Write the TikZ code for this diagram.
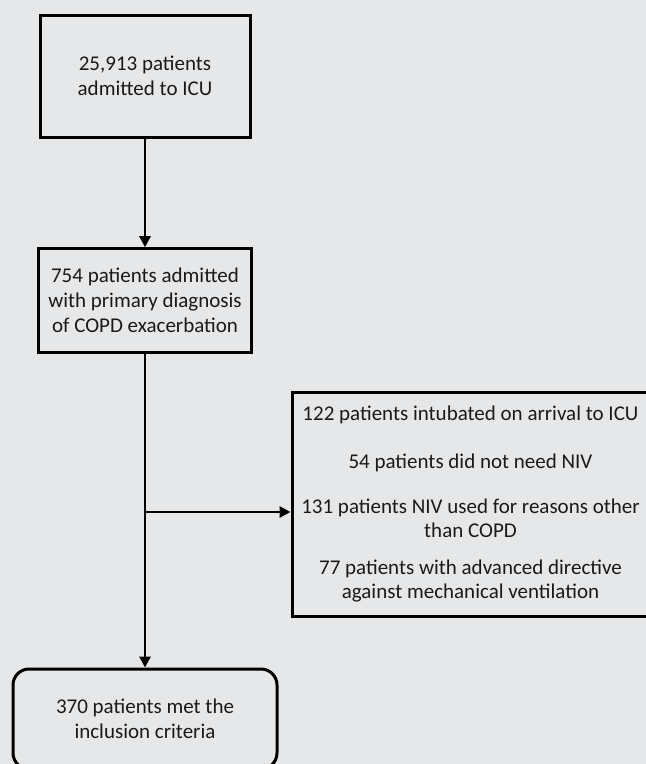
\documentclass[tikz,border=0pt]{standalone}
\usepackage{fontspec}
\setmainfont{Carlito}
\usetikzlibrary{arrows.meta}
\definecolor{bgc}{HTML}{E6E7E8}
\definecolor{txt}{HTML}{1A1A1A}
\tikzset{
  box/.style={draw=black, line width=3pt, align=center, inner sep=0pt,
    text=txt, font=\fontsize{21}{25}\selectfont},
  rbox/.style={box, rounded corners=16pt},
  arr/.style={line width=2.8pt, -{Triangle[length=11pt,width=11pt]}},
  ln/.style={line width=2.8pt}
}
\begin{document}
\begin{tikzpicture}[x=1pt,y=1pt]
\fill[bgc] (0,0) rectangle (646,-764);
\useasboundingbox (0,0) rectangle (646,-764);
\clip (0,0) rectangle (646,-764);
\node[box, minimum width=210pt, minimum height=122pt] (b1) at (145,-76)
  {25,913 patients\\admitted to ICU};
\node[box, minimum width=213pt, minimum height=104pt] (b2) at (145,-300.7)
  {754 patients admitted\\with primary diagnosis\\of COPD exacerbation};
\node[box, minimum width=357pt, minimum height=224pt, font=\fontsize{21}{24}\selectfont] (b3) at (470.5,-504)
  {122 patients intubated on arrival to ICU\\[24pt]
   54 patients did not need NIV\\[21pt]
   131 patients NIV used for reasons other\\than COPD\\[13pt]
   77 patients with advanced directive\\against mechanical ventilation};
\node[rbox, minimum width=264pt, minimum height=100pt] (b4) at (145,-719)
  {370 patients met the\\inclusion criteria};
\coordinate (br) at (145,-512);
\draw[arr] (b1.south) -- (b2.north);
\draw[ln] (b2.south) -- (br);
\draw[arr] (br) -- (b4.north);
\draw[arr] (br) -- (br -| b3.west);
\end{tikzpicture}
\end{document}
